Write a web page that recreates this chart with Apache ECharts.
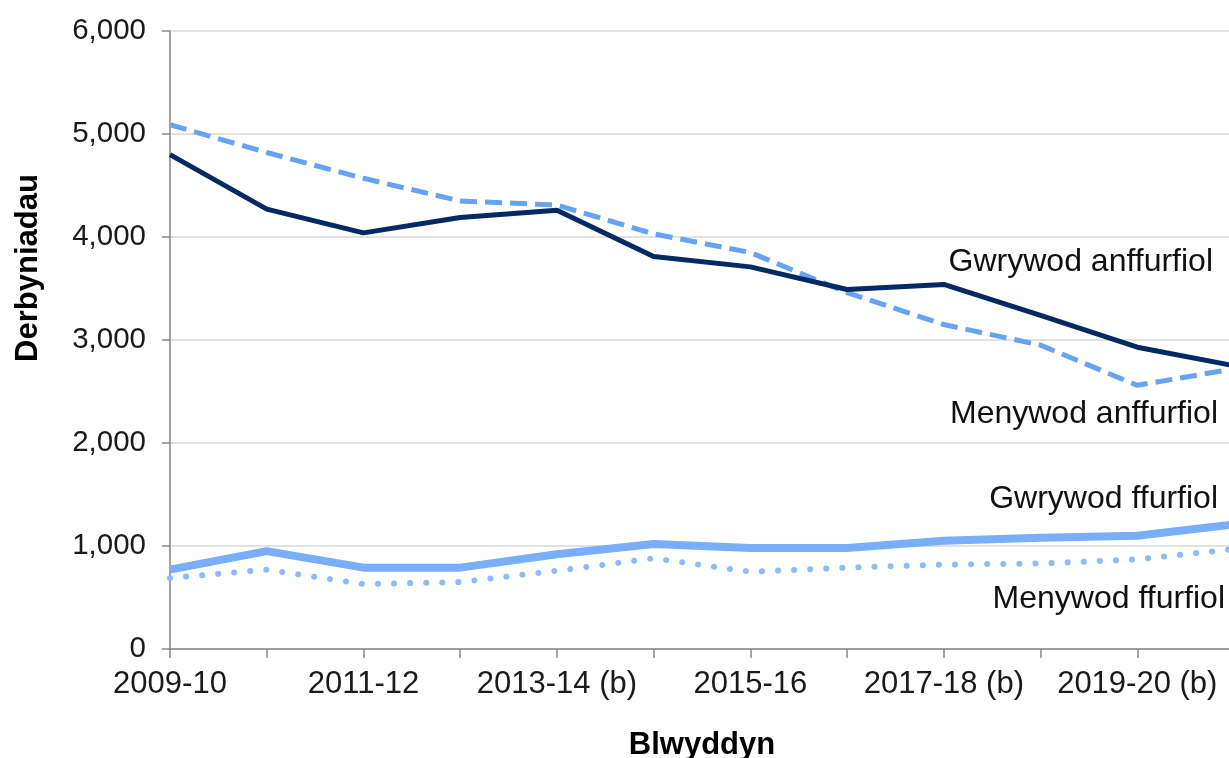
<!DOCTYPE html>
<html>
<head>
<meta charset="utf-8">
<script src="https://cdn.jsdelivr.net/npm/echarts@6/dist/echarts.min.js"></script>
<style>
  html, body { margin: 0; padding: 0; background: #fff; }
  #main { width: 1229px; height: 758px; }
</style>
</head>
<body>
<div id="main"></div>
<script>
// blynyddoedd (x axis)
var years = ['2009-10', '2010-11', '2011-12', '2012-13', '2013-14 (b)', '2014-15',
  '2015-16', '2016-17', '2017-18 (b)', '2018-19', '2019-20 (b)', '2020-21'];

// derbyniadau fesul grwp
var gwrywodAnffurfiol = [4800, 4270, 4040, 4190, 4260, 3810, 3710, 3490, 3540, 3240, 2930, 2750];
var menywodAnffurfiol = [5090, 4820, 4570, 4350, 4310, 4030, 3850, 3460, 3150, 2950, 2560, 2720];
var gwrywodFfurfiol = [770, 950, 790, 790, 920, 1020, 980, 980, 1050, 1080, 1100, 1210];
var menywodFfurfiol = [690, 770, 630, 650, 760, 880, 750, 790, 820, 830, 870, 970];

var yTicks = [0, 1000, 2000, 3000, 4000, 5000, 6000];

var chart = echarts.init(document.getElementById('main'));
var font = 'Liberation Sans, Arial, sans-serif';

var option = {
  animation: false,
  textStyle: { fontFamily: font },
  grid: { left: 170, right: -5, top: 31, bottom: 109, containLabel: false, outerBoundsMode: 'none' },
  xAxis: {
    type: 'category',
    data: years,
    boundaryGap: false,
    name: 'Blwyddyn',
    nameLocation: 'middle',
    nameGap: 81,
    nameMoveOverlap: false,
    nameTextStyle: { fontSize: 31, fontWeight: 'bold', color: '#000', fontFamily: font },
    axisLine: { lineStyle: { color: '#868686', width: 1.5 } },
    axisTick: { show: true, interval: 0, length: 9, lineStyle: { color: '#868686', width: 1.5 } },
    axisLabel: { interval: 1, fontSize: 31, color: '#1a1a1a', margin: 20, fontFamily: font },
    splitLine: { show: false }
  },
  yAxis: {
    type: 'value',
    min: yTicks[0],
    max: yTicks[yTicks.length - 1],
    interval: 1000,
    name: 'Derbyniadau',
    nameLocation: 'middle',
    nameGap: 126,
    nameRotate: 90,
    nameMoveOverlap: false,
    nameTextStyle: {
      fontSize: 31, fontWeight: 'bold', color: '#000', fontFamily: font,
      padding: [0, 0, 0, 144]
    },
    axisLine: { show: true, lineStyle: { color: '#868686', width: 1.5 } },
    axisTick: { show: true, length: 8, lineStyle: { color: '#868686', width: 1.5 } },
    axisLabel: {
      fontSize: 29.5, color: '#1a1a1a', margin: 24, fontFamily: font,
      formatter: function (v) { return v.toLocaleString('en-GB'); }
    },
    splitLine: { lineStyle: { color: '#d9d9d9', width: 1.5 } }
  },
  series: [
    {
      name: 'Gwrywod ffurfiol',
      type: 'line',
      data: gwrywodFfurfiol,
      symbol: 'none',
      lineStyle: { color: '#78aefa', width: 8 }
    },
    {
      name: 'Menywod ffurfiol',
      type: 'line',
      data: menywodFfurfiol,
      symbol: 'none',
      lineStyle: { color: '#8dbcfa', width: 6, type: [0.1, 16], cap: 'round' }
    },
    {
      name: 'Menywod anffurfiol',
      type: 'line',
      data: menywodAnffurfiol,
      symbol: 'none',
      lineStyle: { color: '#66a3f5', width: 5, type: [17, 8] }
    },
    {
      name: 'Gwrywod anffurfiol',
      type: 'line',
      data: gwrywodAnffurfiol,
      symbol: 'none',
      lineStyle: { color: '#032a64', width: 5 }
    }
  ],
  graphic: [
    { type: 'text', right: 16, top: 246, style: { text: 'Gwrywod anffurfiol', fontSize: 32, fill: '#111', fontFamily: font } },
    { type: 'text', right: 11, top: 398, style: { text: 'Menywod anffurfiol', fontSize: 32, fill: '#111', fontFamily: font } },
    { type: 'text', right: 11, top: 483, style: { text: 'Gwrywod ffurfiol', fontSize: 32, fill: '#111', fontFamily: font } },
    { type: 'text', right: 4, top: 583, style: { text: 'Menywod ffurfiol', fontSize: 32, fill: '#111', fontFamily: font } }
  ]
};

chart.setOption(option);
</script>
</body>
</html>
